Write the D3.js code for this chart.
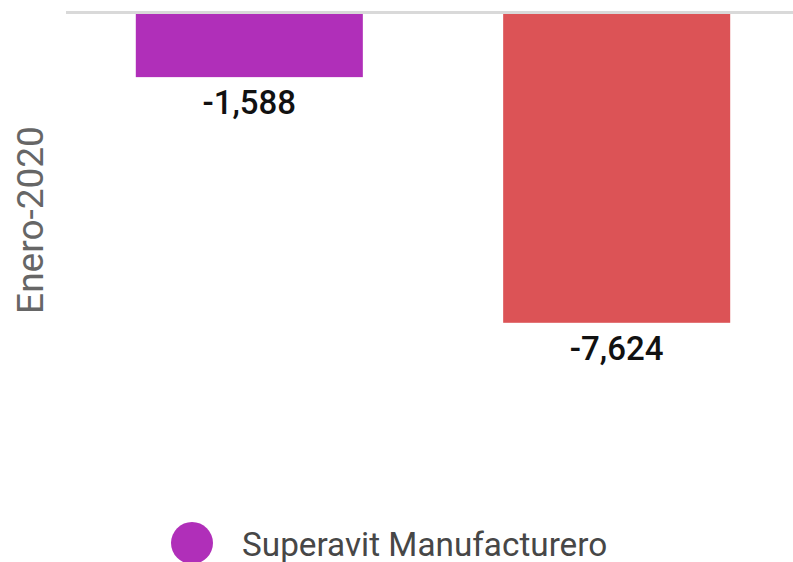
<!DOCTYPE html>
<html>
<head>
<meta charset="utf-8">
<script src="https://cdn.jsdelivr.net/npm/d3@7"></script>
<style>
  body { margin: 0; background: #fff; }
  svg { display: block; font-family: Roboto, "Noto Sans", sans-serif; }
</style>
</head>
<body>
<svg id="chart" width="793" height="562"></svg>
<script>
// facet row and bar data
const rowLabels = ["Enero-2020"];
const barKeys = ["a", "b"];
const barValues = [-1588, -7624];
const legendLabels = ["Superavit Manufacturero"];

const width = 793, height = 562;
const colors = ["#b02fb9", "#dc5356"];

const svg = d3.select("#chart");

const x = d3.scaleBand()
    .domain(barKeys)
    .range([66, 800])
    .paddingInner(0.382)
    .paddingOuter(0.19);

const y = d3.scaleLinear()
    .domain([0, -10000])
    .range([12.5, 419.5]);

// bars
svg.append("g").selectAll("rect")
    .data(barValues)
    .join("rect")
    .attr("x", (d, i) => x(barKeys[i]))
    .attr("y", y(0))
    .attr("width", x.bandwidth())
    .attr("height", d => y(d) - y(0))
    .attr("fill", (d, i) => colors[i]);

// zero line
svg.append("line")
    .attr("x1", 66).attr("x2", width)
    .attr("y1", y(0)).attr("y2", y(0))
    .attr("stroke", "#d9d9d9")
    .attr("stroke-width", 3);

// value labels
const fmt = d3.format(",");
svg.append("g").selectAll("text")
    .data(barValues)
    .join("text")
    .attr("x", (d, i) => x(barKeys[i]) + x.bandwidth() / 2)
    .attr("y", d => y(d) + 37)
    .attr("text-anchor", "middle")
    .attr("font-size", 33)
    .attr("font-weight", 500)
    .attr("fill", "#111")
    .text(d => fmt(d).replace("−", "-"));

// row label
svg.append("text")
    .attr("transform", `translate(43, 220) rotate(-90)`)
    .attr("text-anchor", "middle")
    .attr("font-size", 37)
    .attr("fill", "#666")
    .text(rowLabels[0]);

// legend
const legend = svg.append("g").selectAll("g")
    .data(legendLabels)
    .join("g")
    .attr("transform", "translate(192, 543)");

legend.append("circle")
    .attr("r", 21)
    .attr("fill", (d, i) => colors[i]);

legend.append("text")
    .attr("x", 50)
    .attr("y", 12.5)
    .attr("font-size", 33.3)
    .attr("fill", "#474747")
    .text(d => d);
</script>
</body>
</html>
